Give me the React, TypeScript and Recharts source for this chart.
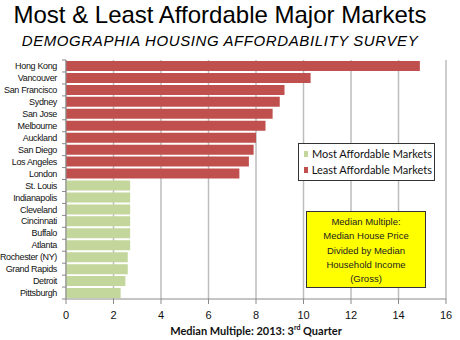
import { Bar, BarChart, CartesianGrid, Legend, XAxis, YAxis } from "recharts";

const markets = [
  "Hong Kong",
  "Vancouver",
  "San Francisco",
  "Sydney",
  "San Jose",
  "Melbourne",
  "Auckland",
  "San Diego",
  "Los Angeles",
  "London",
  "St. Louis",
  "Indianapolis",
  "Cleveland",
  "Cincinnati",
  "Buffalo",
  "Atlanta",
  "Rochester (NY)",
  "Grand Rapids",
  "Detroit",
  "Pittsburgh",
];

// null where the market is not in that group
const leastAffordable = [14.9, 10.3, 9.2, 9.0, 8.7, 8.4, 8.0, 7.9, 7.7, 7.3, null, null, null, null, null, null, null, null, null, null];
const mostAffordable = [null, null, null, null, null, null, null, null, null, null, 2.7, 2.7, 2.7, 2.7, 2.7, 2.7, 2.6, 2.6, 2.5, 2.3];

const xTicks = [0, 2, 4, 6, 8, 10, 12, 14, 16];
const noteLines = ["Median Multiple:", "Median House Price", "Divided by Median", "Household Income", "(Gross)"];

const data = markets.map((name, i) => ({
  name,
  least: leastAffordable[i],
  most: mostAffordable[i],
}));

const RED = "#c0504d";
const GREEN = "#c3d69b";
const GRID = "#bcbcbc";
const AXIS = "#8a8a8a";

function MarketTick(props: any) {
  const { x, y, payload, index } = props;
  return (
    <g>
      {index === 0 && <line x1={x + 5} x2={x + 9} y1={y - 6} y2={y - 6} stroke={AXIS} />}
      <line x1={x + 5} x2={x + 9} y1={y + 6} y2={y + 6} stroke={AXIS} />
      <text
        x={x}
        y={y}
        dy="0.35em"
        textAnchor="end"
        fontSize={9}
        letterSpacing={-0.35}
        fill="#111"
        fontFamily="'Liberation Sans', Arial, sans-serif"
      >
        {payload.value}
      </text>
    </g>
  );
}

function LegendBox(props: any) {
  const items = [...(props.payload || [])].sort((a: any) => (a.dataKey === "most" ? -1 : 1));
  return (
    <div
      style={{
        border: "1px solid #333",
        background: "#fff",
        padding: "2px 2px 2px 5px",
        fontFamily: "Lato, 'Open Sans', sans-serif",
        fontSize: 11,
        color: "#111",
        lineHeight: "16px",
        whiteSpace: "nowrap",
        boxSizing: "border-box",
      }}
    >
      {items.map((item: any) => (
        <div key={item.dataKey} style={{ display: "flex", alignItems: "center" }}>
          <span style={{ width: 6, height: 6, background: item.color, marginRight: 4, display: "inline-block" }} />
          {item.value}
        </div>
      ))}
    </div>
  );
}

export default function App() {
  return (
    <div style={{ position: "fixed", left: 0, top: 0, width: 460, height: 340, background: "#fff" }}>
      <div
        style={{
          position: "absolute",
          left: 0,
          top: 1,
          width: 440,
          textAlign: "center",
          fontFamily: "'Liberation Sans', Arial, sans-serif",
          fontSize: 24,
          lineHeight: "28px",
          color: "#000",
        }}
      >
        Most &amp; Least Affordable Major Markets
      </div>
      <div
        style={{
          position: "absolute",
          left: 0,
          top: 32,
          width: 440,
          textAlign: "center",
          fontFamily: "'Liberation Sans', Arial, sans-serif",
          fontStyle: "italic",
          fontSize: 15,
          letterSpacing: 0.6,
          lineHeight: "18px",
          color: "#000",
        }}
      >
        DEMOGRAPHIA HOUSING AFFORDABILITY SURVEY
      </div>

      <BarChart
        width={460}
        height={340}
        data={data}
        layout="vertical"
        barCategoryGap={1}
        margin={{ top: 60, right: 14, bottom: 21, left: 0 }}
      >
        <CartesianGrid horizontal={false} stroke={GRID} strokeWidth={1.5} />
        <XAxis
          type="number"
          domain={[0, 16]}
          ticks={xTicks}
          height={20}
          stroke={AXIS}
          tickSize={5}
          tickMargin={7}
          tick={{ fill: "#111", fontSize: 11, fontFamily: "'Liberation Sans', Arial, sans-serif" }}
        />
        <YAxis
          type="category"
          dataKey="name"
          width={66}
          stroke={AXIS}
          tickLine={false}
          tickSize={6}
          tickMargin={3}
          interval={0}
          tick={<MarketTick />}
        />
        <Legend
          layout="vertical"
          align="center"
          verticalAlign="middle"
          wrapperStyle={{ left: 298, top: 143, width: 137 }}
          content={<LegendBox />}
        />
        <Bar dataKey="most" name="Most Affordable Markets" stackId="m" fill={GREEN} isAnimationActive={false} />
        <Bar dataKey="least" name="Least Affordable Markets" stackId="m" fill={RED} isAnimationActive={false} />
      </BarChart>

      <div
        style={{
          position: "absolute",
          left: 306,
          top: 211,
          width: 120,
          height: 77,
          background: "#ffff00",
          border: "1px solid #333",
          textAlign: "center",
          fontFamily: "'Liberation Sans', Arial, sans-serif",
          fontSize: 9.5,
          lineHeight: "14.3px",
          color: "#222",
          paddingTop: 3,
          boxSizing: "border-box",
        }}
      >
        {noteLines.map((l) => (
          <div key={l}>{l}</div>
        ))}
      </div>

      <div
        style={{
          position: "absolute",
          left: 66,
          top: 323,
          width: 380,
          textAlign: "center",
          fontFamily: "Lato, 'Open Sans', sans-serif",
          fontWeight: 700,
          fontSize: 11,
          lineHeight: "16px",
          color: "#111",
        }}
      >
        Median Multiple: 2013: 3<sup style={{ fontSize: 7, lineHeight: 0 }}>rd</sup> Quarter
      </div>
    </div>
  );
}
